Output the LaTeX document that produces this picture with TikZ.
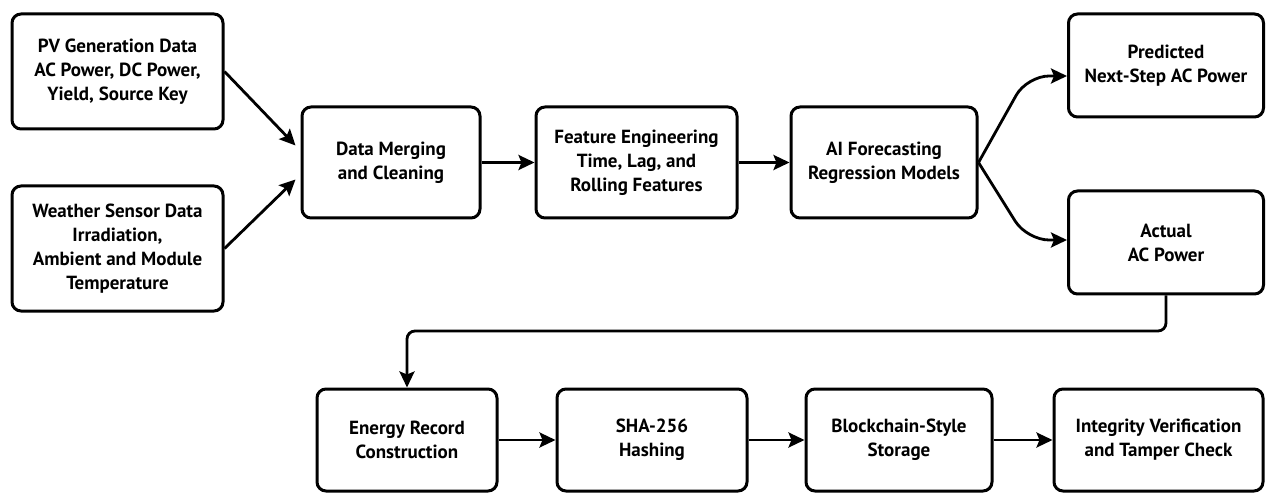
\documentclass[tikz,border=0pt]{standalone}
\usepackage{fontspec}
\setmainfont{PT Sans}
\usetikzlibrary{arrows.meta}
\tikzset{
  box/.style={draw, line width=3pt, rounded corners=9pt, align=center,
    font=\fontsize{19pt}{24pt}\selectfont\bfseries, inner sep=0pt},
  arr/.style={line width=2.8pt, -{Stealth[length=16pt,width=15pt,inset=3pt]}},
}
\begin{document}
\begin{tikzpicture}[x=1pt,y=-1pt]
\useasboundingbox (0,0) rectangle (1266,494);
% top row
\node[box, minimum width=211pt, minimum height=115pt] (pv) at (117.5,71.5)
  {PV Generation Data\\AC Power, DC Power,\\Yield, Source Key};
\node[box, minimum width=211pt, minimum height=125pt] (ws) at (117.5,248.5)
  {Weather Sensor Data\\Irradiation,\\Ambient and Module\\Temperature};
\node[box, minimum width=178pt, minimum height=111pt] (merge) at (391,162.5)
  {Data Merging\\and Cleaning};
\node[box, minimum width=201pt, minimum height=111pt] (feat) at (636.5,162.5)
  {Feature Engineering\\Time, Lag, and\\Rolling Features};
\node[box, minimum width=186pt, minimum height=111pt] (ai) at (884,162.5)
  {AI Forecasting\\Regression Models};
\node[box, minimum width=195pt, minimum height=103pt] (pred) at (1166,65.5)
  {Predicted\\Next-Step AC Power};
\node[box, minimum width=195pt, minimum height=103pt] (act) at (1166,242.5)
  {Actual\\AC Power};
% bottom row
\node[box, minimum width=180pt, minimum height=102pt] (rec) at (407,440)
  {Energy Record\\Construction};
\node[box, minimum width=190pt, minimum height=102pt] (sha) at (652,440)
  {SHA-256\\Hashing};
\node[box, minimum width=186pt, minimum height=102pt] (chain) at (899,440)
  {Blockchain-Style\\Storage};
\node[box, minimum width=209pt, minimum height=102pt] (ver) at (1158.5,440)
  {Integrity Verification\\and Tamper Check};
% connectors
\coordinate (mtop) at ([xshift=-5pt,yshift=17pt]merge.west);
\coordinate (mbot) at ([xshift=-5pt,yshift=-17pt]merge.west);
\draw[arr] (pv.east) -- (mtop);
\draw[arr] (ws.east) -- (mbot);
\draw[arr] (merge) -- (feat);
\draw[arr] (feat) -- (ai);
\coordinate (up) at (1027,76);
\coordinate (dn) at (1027,240);
\draw[arr, rounded corners=22pt] (ai.east) -- (up) -- (up -| pred.west);
\draw[arr, rounded corners=22pt] (ai.east) -- (dn) -- (dn -| act.west);
\coordinate (lane) at (0,331);
\draw[arr, rounded corners=8pt] (act.south) -- (act.south |- lane) -- (rec.north |- lane) -- (rec.north);
\draw[arr] (rec) -- (sha);
\draw[arr] (sha) -- (chain);
\draw[arr] (chain) -- (ver);
\end{tikzpicture}
\end{document}
